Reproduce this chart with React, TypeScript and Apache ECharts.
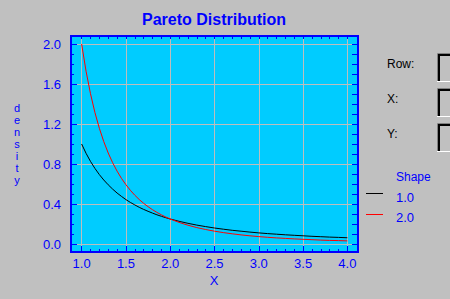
import React, { useEffect, useRef } from "react";
import * as echarts from "echarts";

const xValues = [
  1.0, 1.05, 1.1, 1.15, 1.2, 1.25, 1.3, 1.35, 1.4, 1.45, 1.5, 1.55, 1.6, 1.65, 1.7, 1.75, 1.8, 1.85, 1.9, 1.95,
  2.0, 2.1, 2.2, 2.3, 2.4, 2.5, 2.6, 2.7, 2.8, 2.9, 3.0, 3.1, 3.2, 3.3, 3.4, 3.5, 3.6, 3.7, 3.8, 3.9, 4.0,
];
const shape1Values = [
  1.0, 0.907, 0.826, 0.756, 0.694, 0.64, 0.592, 0.549, 0.51, 0.476, 0.444, 0.416, 0.391, 0.367, 0.346, 0.327, 0.309, 0.292, 0.277, 0.263,
  0.25, 0.227, 0.207, 0.189, 0.174, 0.16, 0.148, 0.137, 0.128, 0.119, 0.111, 0.104, 0.098, 0.092, 0.087, 0.082, 0.077, 0.073, 0.069, 0.066, 0.0625,
];
const shape2Values = [
  2.0, 1.728, 1.503, 1.315, 1.157, 1.024, 0.91, 0.813, 0.729, 0.656, 0.593, 0.537, 0.488, 0.445, 0.407, 0.373, 0.343, 0.316, 0.292, 0.27,
  0.25, 0.216, 0.188, 0.164, 0.145, 0.128, 0.114, 0.102, 0.091, 0.082, 0.074, 0.067, 0.061, 0.056, 0.051, 0.047, 0.043, 0.039, 0.036, 0.034, 0.031,
];
const seriesNames = ["1.0", "2.0"];
const seriesColors = ["#000000", "#ff0000"];

const xMajorTicks = [1.0, 1.5, 2.0, 2.5, 3.0, 3.5, 4.0];
const xMinorTicks = [
  1.0, 1.1, 1.2, 1.3, 1.4, 1.5, 1.6, 1.7, 1.8, 1.9, 2.0, 2.1, 2.2, 2.3, 2.4, 2.5, 2.6, 2.7, 2.8, 2.9,
  3.0, 3.1, 3.2, 3.3, 3.4, 3.5, 3.6, 3.7, 3.8, 3.9, 4.0,
];
const yMajorTicks = [0.0, 0.4, 0.8, 1.2, 1.6, 2.0];
const yMinorTicks = [
  0.0, 0.1, 0.2, 0.3, 0.4, 0.5, 0.6, 0.7, 0.8, 0.9, 1.0, 1.1, 1.2, 1.3, 1.4, 1.5, 1.6, 1.7, 1.8, 1.9, 2.0,
];
const xRange = [0.88, 4.12];
const yRange = [-0.08, 2.08];
const yAxisLetters = ["d", "e", "n", "s", "i", "t", "y"];

const FONT = '"Liberation Sans", Arial, sans-serif';
const BLUE = "#0000ff";
const GRID_GRAY = "#bdbdbd";

function txt(x: number, y: number, text: string, size: number, color: string, align = "left", extra: any = {}) {
  return {
    type: "text",
    x,
    y,
    silent: true,
    style: {
      text,
      fontSize: size,
      fontFamily: FONT,
      fill: color,
      align,
      textAlign: align,
      verticalAlign: "middle",
      textVerticalAlign: "middle",
      ...extra,
    },
  };
}

export default function App() {
  const ref = useRef<HTMLDivElement>(null);

  useEffect(() => {
    document.body.style.margin = "0";
    const chart = echarts.init(ref.current!, null, { renderer: "svg" });

    const tickStyle = { color: BLUE, width: 1 };
    const hidden = { show: false };
    const noLine = { show: false, onZero: false };

    const boxes: any[] = [];
    [53, 88, 123].forEach((t) => {
      boxes.push({
        type: "polyline",
        silent: true,
        shape: { points: [[437.5, t + 29], [437.5, t + 0.5], [450, t + 0.5]] },
        style: { stroke: "#808080", lineWidth: 1, fill: "none" },
      });
      boxes.push({
        type: "polyline",
        silent: true,
        shape: { points: [[439, t + 28], [439, t + 2], [450, t + 2]] },
        style: { stroke: "#000000", lineWidth: 2, fill: "none" },
      });
      boxes.push({
        type: "line",
        silent: true,
        shape: { x1: 437, y1: t + 28.5, x2: 450, y2: t + 28.5 },
        style: { stroke: "#ffffff", lineWidth: 1 },
      });
    });

    const letters = yAxisLetters.map((ch, i) => txt(17, 108 + i * 12, ch, 11, BLUE, "center"));

    chart.setOption({
      animation: false,
      backgroundColor: "#c0c0c0",
      grid: {
        left: 71,
        top: 36,
        width: 287,
        height: 216,
        show: true,
        backgroundColor: "#00ccff",
        borderColor: BLUE,
        borderWidth: 2,
        containLabel: false,
      },
      xAxis: [
        {
          type: "value",
          position: "bottom",
          min: xRange[0],
          max: xRange[1],
          axisLine: noLine,
          axisTick: { inside: true, length: 6, customValues: xMajorTicks, lineStyle: tickStyle },
          axisLabel: {
            customValues: xMajorTicks,
            formatter: (v: number) => v.toFixed(1),
            color: BLUE,
            fontSize: 13,
            fontFamily: FONT,
            margin: 5,
          },
          splitLine: { show: true, lineStyle: { color: GRID_GRAY, width: 1 } },
        },
        {
          type: "value",
          position: "bottom",
          min: xRange[0],
          max: xRange[1],
          axisLine: noLine,
          axisTick: { inside: true, length: 3, customValues: xMinorTicks, lineStyle: tickStyle },
          axisLabel: hidden,
          splitLine: hidden,
        },
        {
          type: "value",
          position: "top",
          min: xRange[0],
          max: xRange[1],
          axisLine: noLine,
          axisTick: { inside: true, length: 3, customValues: xMinorTicks, lineStyle: tickStyle },
          axisLabel: hidden,
          splitLine: hidden,
        },
      ],
      yAxis: [
        {
          type: "value",
          position: "left",
          min: yRange[0],
          max: yRange[1],
          axisLine: noLine,
          axisTick: { inside: true, length: 6, customValues: yMajorTicks, lineStyle: tickStyle },
          axisLabel: {
            customValues: yMajorTicks,
            formatter: (v: number) => v.toFixed(1),
            color: BLUE,
            fontSize: 13,
            fontFamily: FONT,
            margin: 10,
          },
          splitLine: { show: true, lineStyle: { color: GRID_GRAY, width: 1 } },
        },
        {
          type: "value",
          position: "left",
          min: yRange[0],
          max: yRange[1],
          axisLine: noLine,
          axisTick: { inside: true, length: 3, customValues: yMinorTicks, lineStyle: tickStyle },
          axisLabel: hidden,
          splitLine: hidden,
        },
        {
          type: "value",
          position: "right",
          min: yRange[0],
          max: yRange[1],
          axisLine: noLine,
          axisTick: { inside: true, length: 6, customValues: yMinorTicks, lineStyle: tickStyle },
          axisLabel: hidden,
          splitLine: hidden,
        },
      ],
      series: [shape1Values, shape2Values].map((vals, i) => ({
        name: seriesNames[i],
        type: "line",
        xAxisIndex: 0,
        yAxisIndex: 0,
        symbol: "none",
        showSymbol: false,
        smooth: false,
        lineStyle: { color: seriesColors[i], width: 1 },
        itemStyle: { color: seriesColors[i] },
        data: xValues.map((x, j) => [x, vals[j]]),
        z: 3 + i,
      })),
      graphic: [
        txt(214, 19, "Pareto Distribution", 16, BLUE, "center", { fontWeight: "bold" }),
        txt(214, 280, "X", 13, BLUE, "center"),
        ...letters,
        txt(396, 177, "Shape", 12, BLUE),
        txt(396, 197, seriesNames[0], 13, BLUE),
        txt(396, 217, seriesNames[1], 13, BLUE),
        {
          type: "line",
          silent: true,
          shape: { x1: 366, y1: 193.5, x2: 383, y2: 193.5 },
          style: { stroke: seriesColors[0], lineWidth: 1 },
        },
        {
          type: "line",
          silent: true,
          shape: { x1: 366, y1: 214.5, x2: 383, y2: 214.5 },
          style: { stroke: seriesColors[1], lineWidth: 1 },
        },
        txt(387, 64, "Row:", 12, "#000000"),
        txt(387, 99, "X:", 12, "#000000"),
        txt(387, 134, "Y:", 12, "#000000"),
        ...boxes,
      ],
    });

    return () => chart.dispose();
  }, []);

  return <div ref={ref} style={{ width: 450, height: 299, background: "#c0c0c0" }} />;
}
